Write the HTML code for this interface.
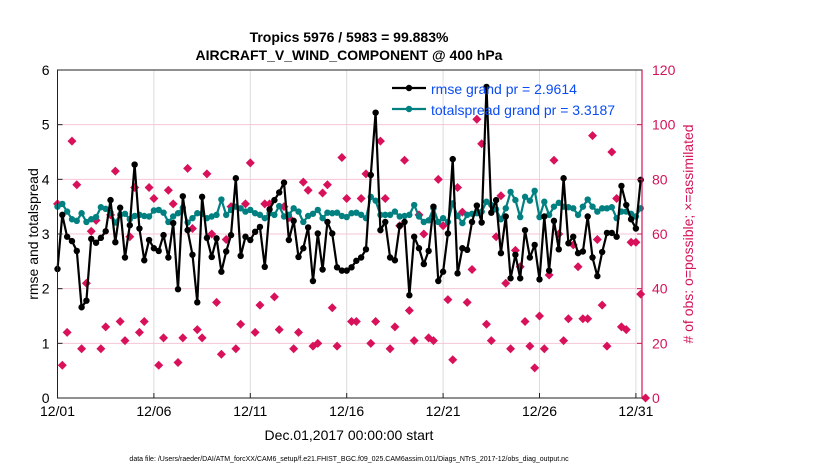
<!DOCTYPE html>
<html><head><meta charset="utf-8"><style>
body{margin:0;background:#fff;width:830px;height:470px;overflow:hidden;font-family:"Liberation Sans",sans-serif}
svg text{font-family:"Liberation Sans",sans-serif}
</style></head><body>
<svg id="chart" width="830" height="470" xmlns="http://www.w3.org/2000/svg">
<text x="349" y="42" text-anchor="middle" font-size="14" font-weight="bold">Tropics 5976 / 5983 = 99.883%</text>
<text x="349" y="60" text-anchor="middle" font-size="14" font-weight="bold">AIRCRAFT_V_WIND_COMPONENT @ 400 hPa</text>
<g id="grid"></g><g id="marks"></g><g id="axes"></g>
<text x="349" y="440" text-anchor="middle" font-size="14">Dec.01,2017 00:00:00 start</text>
<text transform="translate(38,234) rotate(-90)" text-anchor="middle" font-size="14">rmse and totalspread</text>
<text transform="translate(693,234) rotate(-90)" text-anchor="middle" font-size="14" fill="#d4145a"># of obs: o=possible; ×=assimilated</text>
<text x="349" y="461" text-anchor="middle" font-size="7">data file: /Users/raeder/DAI/ATM_forcXX/CAM6_setup/f.e21.FHIST_BGC.f09_025.CAM6assim.011/Diags_NTrS_2017-12/obs_diag_output.nc</text>
<g>
<line x1="392" y1="88" x2="426" y2="88" stroke="#000" stroke-width="2.2"/><circle cx="409" cy="88" r="3.2" fill="#000"/>
<text x="431" y="94" font-size="14" fill="#0a4cf5">rmse grand pr = 2.9614</text>
<line x1="392" y1="109" x2="426" y2="109" stroke="#008080" stroke-width="2.2"/><circle cx="409" cy="109" r="3.2" fill="#008080"/>
<text x="431" y="115" font-size="14" fill="#0a4cf5">totalspread grand pr = 3.3187</text>
</g>
</svg>
<script>
const xTickLabels=["12/01","12/06","12/11","12/16","12/21","12/26","12/31"];
const xTickDays=[0,5,10,15,20,25,30];
const yLeftTicks=[0,1,2,3,4,5,6];
const yRightTicks=[0,20,40,60,80,100,120];
const rmse=[2.36,3.35,2.95,2.87,2.69,1.66,1.78,2.91,2.84,2.93,3.05,3.62,2.85,3.48,2.57,3.16,4.27,3.10,2.52,2.89,2.74,2.69,2.98,2.57,3.20,1.99,3.69,3.07,2.62,1.75,3.68,2.93,2.58,2.92,2.31,2.68,2.98,4.02,2.60,2.95,2.89,3.04,
3.13,2.40,3.45,3.62,3.76,3.94,2.89,3.24,2.58,2.74,3.12,2.14,3.01,2.35,3.22,3.01,2.39,2.33,2.33,2.39,2.51,2.57,2.72,4.08,5.22,3.07,3.22,2.57,2.52,3.15,3.22,1.88,2.95,2.74,2.45,2.69,3.50,2.14,2.31,3.01,
4.37,2.28,2.74,2.71,3.22,3.52,3.21,5.69,3.39,3.62,2.65,3.32,2.19,2.62,2.19,3.07,2.57,2.80,2.17,3.32,2.33,3.24,2.72,4.02,2.83,2.95,2.65,2.68,3.32,2.57,2.23,2.67,3.02,3.02,2.95,3.88,3.53,3.27,3.10,3.99,null];
const spread=[3.50,3.55,3.41,3.27,3.24,3.38,3.22,3.27,3.31,3.49,3.46,3.39,3.21,3.35,3.37,3.27,3.33,3.35,3.33,3.32,3.43,3.44,3.39,3.22,3.32,3.38,3.48,3.21,3.29,3.38,3.37,3.29,3.32,3.35,3.63,3.35,3.44,3.50,3.47,3.41,3.44,3.38,
3.35,3.29,3.38,3.35,3.51,3.32,3.35,3.47,3.41,3.22,3.33,3.37,3.44,3.29,3.39,3.38,3.39,3.33,3.31,3.38,3.39,3.35,3.29,3.68,3.61,3.35,3.35,3.35,3.41,3.32,3.33,3.35,3.53,3.32,3.22,3.25,3.47,3.22,3.29,3.22,
3.56,3.33,3.20,3.35,3.37,3.38,3.41,3.59,3.53,3.45,3.27,3.47,3.77,3.62,3.31,3.68,3.61,3.79,3.31,3.59,3.35,3.50,3.57,3.50,3.49,3.47,3.35,3.50,3.63,3.50,3.41,3.47,3.47,3.49,3.29,3.41,3.41,3.37,3.32,3.47,null];
const nobs=[71,12,24,94,78,18,42,61,65,18,26,67,83,28,21,59,77,24,28,77,73,12,22,76,71,13,22,84,62,25,22,82,60,35,16,58,70,18,27,71,86,24,
34,71,71,37,25,70,66,18,24,79,76,19,20,75,78,33,19,88,73,28,28,73,82,20,28,94,73,18,26,63,87,32,21,67,60,22,21,80,63,36,
14,77,68,35,47,102,93,27,21,59,74,42,18,54,48,28,19,11,30,18,45,87,60,21,29,56,48,29,29,96,58,34,19,90,73,26,25,57,57,38,0];

const L=57.5,R=642,T=70,B=398,DAY=19.28;
const xi=i=>L+i*DAY/4;
const xd=d=>L+d*DAY;
const yl=v=>B-(v/6)*(B-T);
const yr=v=>B-(v/120)*(B-T);
const NS="http://www.w3.org/2000/svg";
function mk(tag,attrs,parent){const e=document.createElementNS(NS,tag);for(const k in attrs)e.setAttribute(k,attrs[k]);parent.appendChild(e);return e;}
const grid=document.getElementById('grid'),marks=document.getElementById('marks'),axes=document.getElementById('axes');
xTickDays.forEach((d,k)=>{
  const g=mk('line',{x1:xd(d),x2:xd(d),y1:T,y2:B,stroke:'#dcdcdc','stroke-width':1},grid);
  
  
  const t=mk('text',{x:xd(d),y:B+18,'text-anchor':'middle','font-size':14},axes);
  t.textContent=xTickLabels[k];
  
  
  mk('line',{x1:xd(d),x2:xd(d),y1:B,y2:B-5,stroke:'#222'},axes);
});
yRightTicks.forEach(v=>{
  if(v>0&&v<120){const g=mk('line',{x1:L,x2:R,y1:yr(v),y2:yr(v),stroke:'#f5c6d6','stroke-width':1},grid);
  
  }
  const t=mk('text',{x:R+10,y:yr(v)+5,'font-size':14,fill:'#d4145a'},axes);
  t.textContent=v;
  
  
  mk('line',{x1:R,x2:R-5,y1:yr(v),y2:yr(v),stroke:'#d4145a'},axes);
});
yLeftTicks.forEach(v=>{
  const t=mk('text',{x:L-8,y:yl(v)+5,'text-anchor':'end','font-size':14},axes);
  t.textContent=v;
  
  
  mk('line',{x1:L,x2:L+5,y1:yl(v),y2:yl(v),stroke:'#222'},axes);
});
const fr=mk('rect',{x:L,y:T,width:R-L,height:B-T,fill:'none',stroke:'#222','stroke-width':1},axes);


const ra=mk('line',{x1:R,x2:R,y1:T,y2:B,stroke:'#d4145a','stroke-width':1.2},axes);


nobs.forEach((v,i)=>{
  const x=xi(i),y=yr(v);
  const d=mk('path',{d:`M${x} ${y-4.5}L${x+4.5} ${y}L${x} ${y+4.5}L${x-4.5} ${y}Z`,fill:'#d8115a'},marks);
  
  
});
function series(arr,color,name){
  let p='';arr.forEach((v,i)=>{if(v!=null)p+=(p?'L':'M')+xi(i).toFixed(1)+' '+yl(v).toFixed(1);});
  const l=mk('path',{d:p,fill:'none',stroke:color,'stroke-width':2.2,'stroke-linejoin':'round'},marks);
  
  
  arr.forEach((v,i)=>{if(v==null)return;
    const c=mk('circle',{cx:xi(i),cy:yl(v),r:3.2,fill:color},marks);
    
    
  });
}
series(spread,'#008080','totalspread');
series(rmse,'#000000','rmse');
</script>
</body></html>
